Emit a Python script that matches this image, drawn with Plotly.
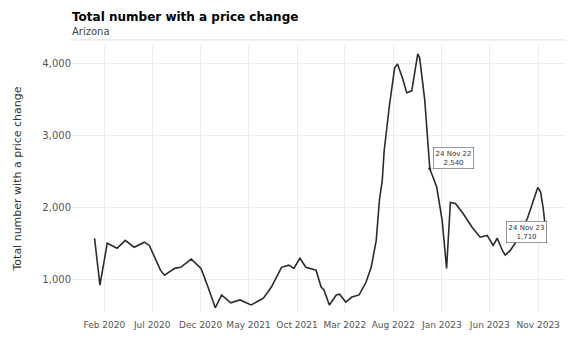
import plotly.graph_objects as go
import pandas as pd

# traced weekly-ish values, Arizona
dates = ["2020-01-01", "2020-01-18", "2020-02-10", "2020-03-12", "2020-04-07", "2020-05-05",
         "2020-06-06", "2020-06-22", "2020-07-27", "2020-08-09", "2020-09-10", "2020-09-29",
         "2020-11-01", "2020-12-02", "2020-12-24", "2021-01-16", "2021-02-05", "2021-03-06",
         "2021-04-04", "2021-05-09", "2021-06-01", "2021-06-17", "2021-07-12", "2021-08-13",
         "2021-09-05", "2021-09-21", "2021-10-10", "2021-10-29", "2021-11-30", "2021-12-16",
         "2021-12-25", "2022-01-11", "2022-02-02", "2022-02-12", "2022-03-04", "2022-03-23",
         "2022-04-15", "2022-05-07", "2022-05-23", "2022-06-08", "2022-06-18", "2022-06-27",
         "2022-07-03", "2022-07-19", "2022-08-05", "2022-08-14", "2022-08-30", "2022-09-12",
         "2022-09-28", "2022-10-17", "2022-10-23", "2022-11-08", "2022-11-24", "2022-12-16",
         "2023-01-02", "2023-01-12", "2023-01-16", "2023-01-28", "2023-02-13", "2023-03-09",
         "2023-04-07", "2023-05-02", "2023-05-24", "2023-06-12", "2023-06-25", "2023-07-11",
         "2023-07-20", "2023-08-05", "2023-08-31", "2023-09-29", "2023-10-15", "2023-10-31",
         "2023-11-09", "2023-11-17", "2023-11-24"]
values = [1570, 917, 1500, 1430, 1540, 1445,
          1515, 1470, 1125, 1055, 1150, 1165,
          1280, 1150, 890, 600, 780, 670,
          710, 640, 695, 735, 890, 1165,
          1195, 1150, 1290, 1165, 1125, 890,
          850, 640, 780, 790, 680, 750,
          780, 960, 1165, 1540, 2100, 2375,
          2790, 3400, 3945, 4000, 3800, 3600,
          3625, 4140, 4085, 3500, 2540, 2280,
          1820, 1305, 1150, 2070, 2055, 1915,
          1720, 1585, 1610, 1470, 1570, 1400,
          1335, 1400, 1570, 1860, 2055, 2280,
          2210, 1985, 1710]

tick_dates = ["2020-02-01", "2020-07-01", "2020-12-01", "2021-05-01", "2021-10-01",
              "2022-03-01", "2022-08-01", "2023-01-01", "2023-06-01", "2023-11-01"]
tick_labels = ["Feb 2020", "Jul 2020", "Dec 2020", "May 2021", "Oct 2021",
               "Mar 2022", "Aug 2022", "Jan 2023", "Jun 2023", "Nov 2023"]
y_ticks = [1000, 2000, 3000, 4000]

note_dates = ["2022-11-24", "2023-11-24"]
note_labels = ["24 Nov 22", "24 Nov 23"]

df = pd.DataFrame({"date": pd.to_datetime(dates), "n": values})
span = df["date"].max() - df["date"].min()
x_range = [df["date"].min() - span * 0.05, df["date"].max() + span * 0.05]

FONT = "DejaVu Sans"
fig = go.Figure()
fig.add_trace(go.Scatter(x=df["date"], y=df["n"], mode="lines",
                         line=dict(color="#2b2b2b", width=1.6), showlegend=False))

nd = df[df["date"].isin(pd.to_datetime(note_dates))]
fig.add_trace(go.Scatter(x=nd["date"], y=nd["n"], mode="markers",
                         marker=dict(color="#2b2b2b", size=3), showlegend=False))

# label boxes
pos = [dict(xanchor="left", yanchor="bottom", xshift=3, yshift=0),
       dict(xanchor="right", yanchor="top", xshift=2, yshift=7)]
for (d, v), lab, p in zip(nd[["date", "n"]].values, note_labels, pos):
    fig.add_annotation(x=d, y=v, text=f"{lab}<br>{v:,}", showarrow=False,
                       font=dict(family=FONT, size=7, color="#333333"),
                       bgcolor="white", bordercolor="#555555", borderwidth=0.6,
                       borderpad=2, **p)

fig.add_annotation(x=-0.004, y=1.105, xref="paper", yref="paper", xanchor="left",
                   yanchor="middle", showarrow=False,
                   text="<b>Total number with a price change</b>",
                   font=dict(family=FONT, size=12, color="black"))
fig.add_annotation(x=-0.004, y=1.052, xref="paper", yref="paper", xanchor="left",
                   yanchor="middle", showarrow=False, text="Arizona",
                   font=dict(family=FONT, size=10, color="#444444"))
fig.add_shape(type="line", xref="paper", yref="paper", x0=-0.004, x1=1.02,
              y0=1.019, y1=1.019, line=dict(color="#dddddd", width=1))

# page body adds an 8px offset, so margins are set 8px less on the left/top
fig.update_layout(
    width=574, height=339,
    margin=dict(l=64, r=14, t=37, b=35),
    plot_bgcolor="white", paper_bgcolor="white",
    font=dict(family=FONT),
    xaxis=dict(range=x_range, tickvals=tick_dates, ticktext=tick_labels,
               showgrid=True, gridcolor="#ececec", gridwidth=1,
               tickfont=dict(size=9, color="#555555"), ticks="", zeroline=False,
               showline=False, ticklabelstandoff=6),
    yaxis=dict(range=[542, 4264], tickvals=y_ticks, tickformat=",",
               showgrid=True, gridcolor="#ececec", gridwidth=1, automargin=False,
               tickfont=dict(size=10, color="#555555"), ticks="", zeroline=False,
               title=dict(text="Total number with a price change",
                          font=dict(size=11, color="#333333"), standoff=18)),
)

fig.write_html("out.html")
